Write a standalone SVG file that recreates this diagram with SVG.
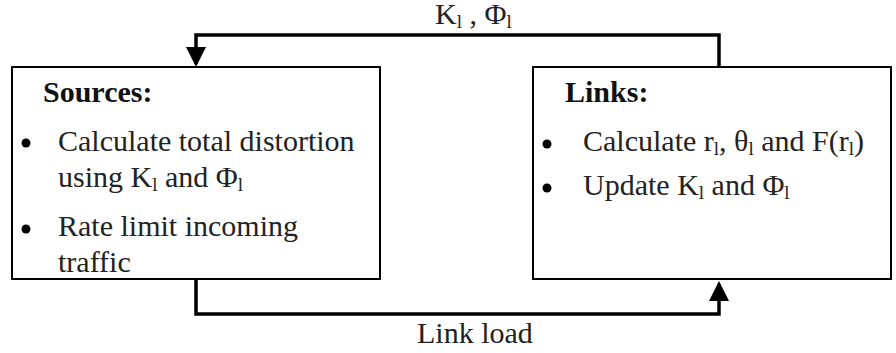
<svg xmlns="http://www.w3.org/2000/svg" width="896" height="353" viewBox="0 0 896 353">
<defs>
<style>
.box{fill:#fff;stroke:#000;stroke-width:2}
.t{font-family:"Liberation Serif","Times New Roman",serif;font-size:30px;fill:#222}
.b{font-weight:bold;fill:#111}
.s{font-size:19px}
.con{fill:none;stroke:#000;stroke-width:3.5}
.dot{fill:#000}
</style>
<marker id="ah" markerUnits="userSpaceOnUse" markerWidth="20" markerHeight="20" refX="17" refY="10" orient="auto" viewBox="0 0 20 20">
<path d="M0,0 L20,10 L0,20 Z" fill="#000"/>
</marker>
</defs>
<rect width="896" height="353" fill="#fff"/>
<g id="sources">
<rect class="box" x="12" y="67" width="368" height="212"/>
<text class="t b" x="43" y="102">Sources:</text>
<circle class="dot" cx="26" cy="143" r="4.5"/>
<text class="t" x="58" y="151">Calculate total distortion</text>
<text class="t" x="58" y="187">using K<tspan class="s" dy="4">l</tspan><tspan dy="-4"> and Φ</tspan><tspan class="s" dy="4">l</tspan></text>
<circle class="dot" cx="26" cy="229" r="4.5"/>
<text class="t" x="58" y="236">Rate limit incoming</text>
<text class="t" x="58" y="272">traffic</text>
</g>
<g id="links">
<rect class="box" x="533" y="67" width="358" height="212"/>
<text class="t b" x="565" y="102">Links:</text>
<circle class="dot" cx="547" cy="144" r="4.5"/>
<text class="t" x="583" y="151">Calculate r<tspan class="s" dy="4">l</tspan><tspan dy="-4">, θ</tspan><tspan class="s" dy="4">l</tspan><tspan dy="-4"> and F(r</tspan><tspan class="s" dy="4">l</tspan><tspan dy="-4">)</tspan></text>
<circle class="dot" cx="547" cy="188" r="4.5"/>
<text class="t" x="583" y="195">Update K<tspan class="s" dy="4">l</tspan><tspan dy="-4"> and Φ</tspan><tspan class="s" dy="4">l</tspan></text>
</g>
<g id="connectors">
<polyline class="con" points="719,67 719,35 196,35 196,64" marker-end="url(#ah)"/>
<polyline class="con" points="196,279 196,314 719,314 719,284" marker-end="url(#ah)"/>
<text class="t" x="435" y="24">K<tspan class="s" dy="4">l</tspan><tspan dy="-4"> , Φ</tspan><tspan class="s" dy="4">l</tspan></text>
<text class="t" x="417" y="343">Link load</text>
</g>
</svg>
